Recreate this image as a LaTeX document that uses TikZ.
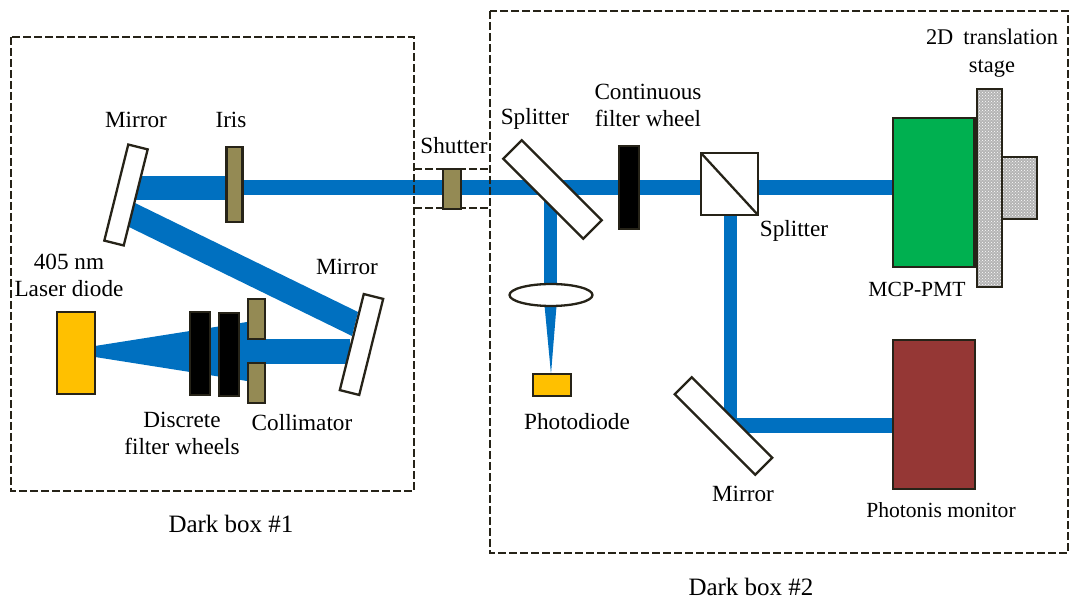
\documentclass[tikz,border=0pt]{standalone}
\usepackage{fontspec}
\setmainfont{Liberation Serif}
\usetikzlibrary{shapes.geometric, patterns}
\definecolor{beamblue}{HTML}{0070C0}
\definecolor{outline}{HTML}{262318}
\definecolor{khaki}{HTML}{948A54}
\definecolor{amber}{HTML}{FFC000}
\definecolor{pmtgreen}{HTML}{00B050}
\definecolor{monbrown}{HTML}{953735}
\definecolor{stagegray}{HTML}{B4B4B4}

\begin{document}
\begin{tikzpicture}[x=1pt, y=-1pt,
		part/.style={draw=outline, line width=2.3pt, inner sep=0pt, outer sep=0pt},
		mirror/.style={part, fill=white, rectangle},
		plate/.style={part, fill=khaki, minimum width=#1},
		filterw/.style={part, fill=black, minimum width=20pt},
		stagepart/.style={part, preaction={fill=stagegray}, pattern=crosshatch dots, pattern color=white},
		beam/.style={fill=beamblue, draw=none},
		darkbox/.style={draw=outline, line width=2.4pt, dash pattern=on 8pt off 3pt},
		lbl/.style={font=\fontsize{23.2}{27}\selectfont, align=center, inner sep=0pt, text=black},
		lblsm/.style={font=\fontsize{21.6}{25}\selectfont, align=center, inner sep=0pt, text=black}]
		
		\useasboundingbox (0,0) rectangle (1069,601);
		
		% beams
		\fill[beam] (243,180) rectangle (893,195);
		\fill[beam] (134,176) rectangle (230,200);
		\fill[beam] (135,203) -- (358,312) -- (352,336) -- (129,227) -- cycle;
		\fill[beam] (95,346) -- (247,322) -- (247,381) -- (95,357) -- cycle;
		\fill[beam] (240,339) rectangle (350,364);
		\fill[beam] (544,190) rectangle (557,290);
		\fill[beam] (544,300) -- (557,300) -- (551,374) -- cycle;
		\fill[beam] (724,200) rectangle (737,433);
		\fill[beam] (724,418) rectangle (893,433);
		
		% dark boxes
		\draw[darkbox] (11,37) rectangle (414,491);
		\draw[darkbox] (490,11) rectangle (1068,553);
		\draw[darkbox] (414,169) -- (490,169);
		\draw[darkbox] (414,208) -- (490,208);
		
		% left box
		\node[mirror, rotate=76, minimum width=99pt, minimum height=20pt] (mirrorA) at (126,195) {};
		\node[plate=16pt, minimum height=75pt] (iris) at (234.5,184.5) {};
		\node[mirror, rotate=76, minimum width=99pt, minimum height=20pt] (mirrorB) at (361.5,344.5) {};
		\node[part, fill=amber, minimum width=38pt, minimum height=82pt] (laser) at (76,353) {};
		\node[filterw, minimum height=83pt] (wheelA) at (200,353.5) {};
		\node[filterw, minimum height=83pt] (wheelB) at (229,354.5) {};
		\node[plate=17pt, minimum height=40pt] (collA) at (256.5,319) {};
		\node[plate=17pt, minimum height=40pt] (collB) at (256.5,383) {};
		
		% shutter
		\node[plate=18pt, minimum height=40pt] (shutter) at (452,189) {};
		
		% right box
		\node[mirror, rotate=-45, minimum width=113pt, minimum height=26pt] (splitA) at (552.5,189.5) {};
		\node[part, ellipse, fill=white, minimum width=83pt, minimum height=22pt] (lens) at (551,295) {};
		\node[part, fill=amber, minimum width=38pt, minimum height=22pt] (pdiode) at (552,385) {};
		\node[filterw, minimum height=83pt] (wheelC) at (629,187.5) {};
		\node[mirror, minimum width=57pt, minimum height=62pt] (cube) at (729.5,184) {};
		\draw[part] (cube.north west) -- (cube.south east);
		\node[mirror, rotate=-45, minimum width=114pt, minimum height=24pt] (mirrorC) at (723.5,426) {};
		\node[stagepart, minimum width=25pt, minimum height=198pt] (stage) at (989.5,188) {};
		\node[stagepart, minimum width=35pt, minimum height=62pt] (knob) at (1019.5,188) {};
		\node[part, fill=pmtgreen, minimum width=82pt, minimum height=149pt] (pmt) at (934,192.5) {};
		\draw[part, line width=4pt] (pmt.north east) -- (pmt.south east);
		\node[part, fill=monbrown, minimum width=82pt, minimum height=149pt] (monitor) at (934,414.5) {};
		
		% labels
		\node[lbl] (lbmirrorA) at (136,120) {Mirror};
		\node[lbl] (lbiris) at (231,120) {Iris};
		\node[lbl] (lbmirrorB) at (347,267) {Mirror};
		\node[lbl] (lblaser) at (69,275) {405 nm\\Laser diode};
		\node[lbl] (lbwheels) at (182,433) {Discrete\\filter wheels};
		\node[lbl] (lbcoll) at (302,423) {Collimator};
		\node[lbl] (lbshutter) at (454,146) {Shutter};
		\node[lbl] (lbsplitA) at (535,119) {Splitter};
		\node[lbl] (lbwheelC) at (648,105) {Continuous\\filter wheel};
		\node[lbl] (lbsplitB) at (794,231) {Splitter};
		\node[lbl] (lbpdiode) at (577,422) {Photodiode};
		\node[lbl] (lbmirrorC) at (743,494) {Mirror};
		\node[lbl, font=\fontsize{22.4}{27.5}\selectfont] (lbstage) at (992,53) {2D\hspace{0.45em}translation\\stage};
		\node[lblsm] (lbpmt) at (917,289) {MCP-PMT};
		\node[lblsm] (lbmonitor) at (941,510) {Photonis monitor};
		\node[lbl, font=\fontsize{25}{28}\selectfont] (lbboxA) at (231,524) {Dark box \#1};
		\node[lbl, font=\fontsize{25}{28}\selectfont] (lbboxB) at (751,587) {Dark box \#2};
		
	\end{tikzpicture}
\end{document}
